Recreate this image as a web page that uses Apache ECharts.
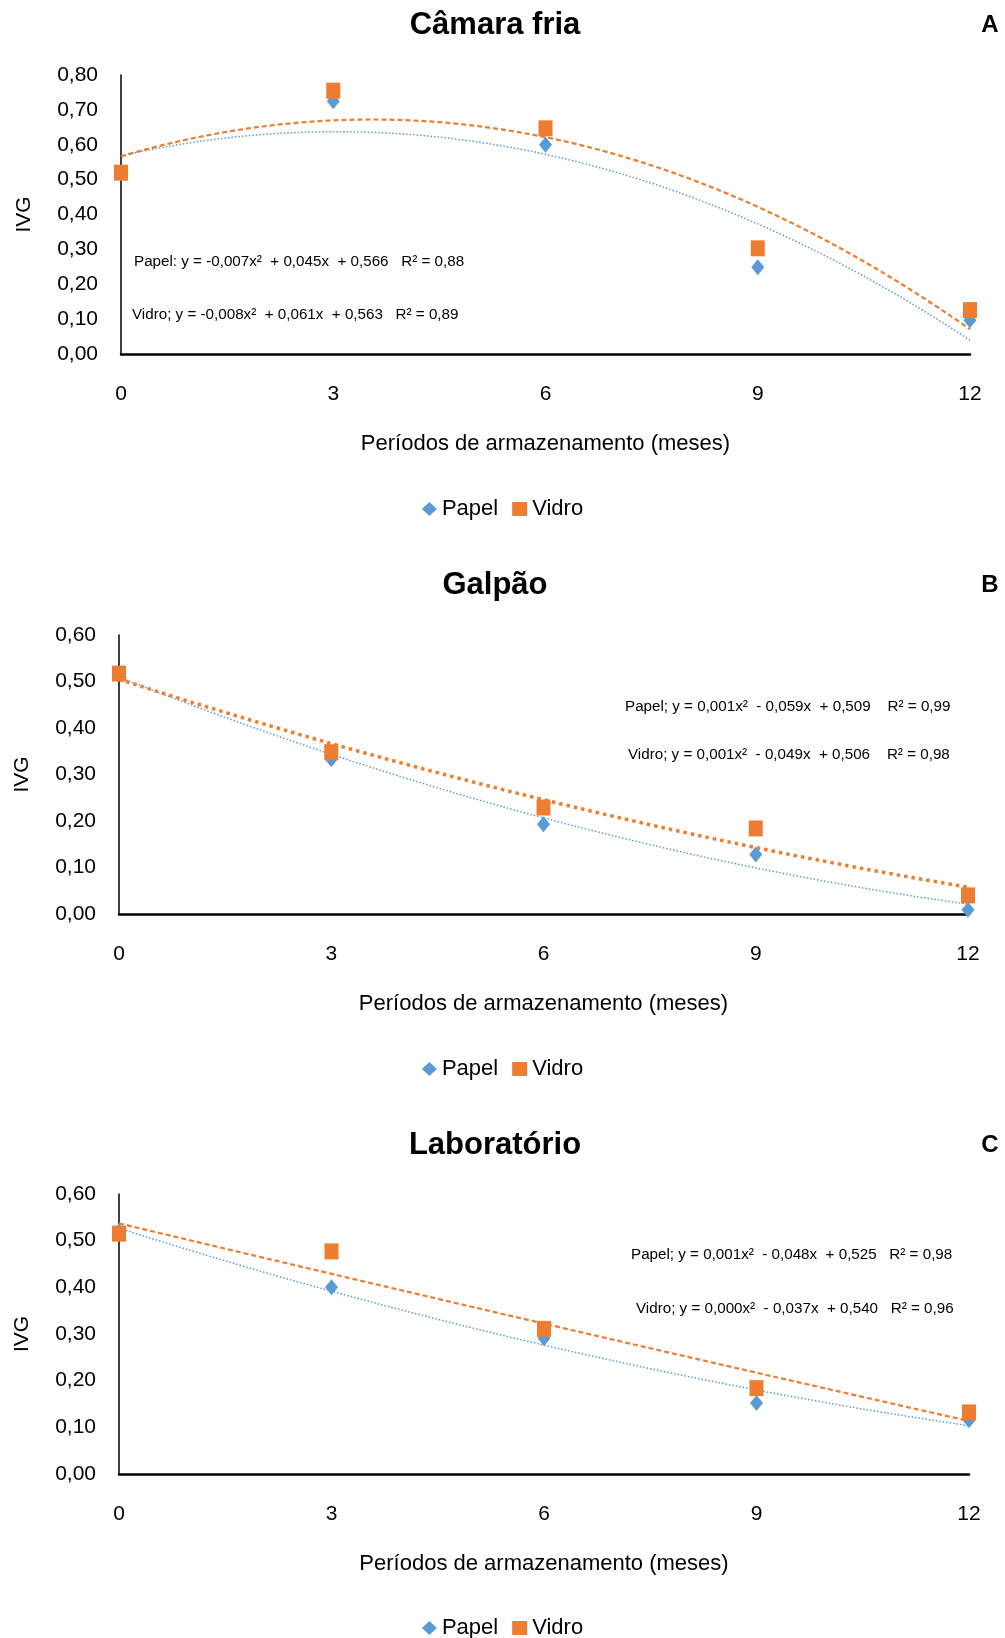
<!DOCTYPE html>
<html>
<head>
<meta charset="utf-8">
<script src="https://cdn.jsdelivr.net/npm/echarts@6/dist/echarts.min.js"></script>
<style>
html,body{margin:0;padding:0;background:#fff;}
#chart{width:1005px;height:1638px;}
</style>
</head>
<body>
<div id="chart"></div>
<script>
// ---------- data ----------
const months = [0, 3, 6, 9, 12];
const xTicks = [0, 3, 6, 9, 12];
const panelTitles = ['Câmara fria', 'Galpão', 'Laboratório'];
const panelLetters = ['A', 'B', 'C'];
const seriesNames = ['Papel', 'Vidro'];

const camaraPapel = [0.520, 0.725, 0.600, 0.249, 0.097];
const camaraVidro = [0.520, 0.755, 0.647, 0.303, 0.126];
const galpaoPapel = [0.517, 0.333, 0.193, 0.128, 0.009];
const galpaoVidro = [0.517, 0.348, 0.229, 0.184, 0.040];
const labPapel    = [0.520, 0.400, 0.291, 0.152, 0.115];
const labVidro    = [0.515, 0.477, 0.311, 0.184, 0.132];

const yMaxes = [0.8, 0.6, 0.6];

const eqCamara = ['Papel: y = -0,007x²  + 0,045x  + 0,566   R² = 0,88',
                  'Vidro; y = -0,008x²  + 0,061x  + 0,563   R² = 0,89'];
const eqGalpao = ['Papel; y = 0,001x²  - 0,059x  + 0,509    R² = 0,99',
                  'Vidro; y = 0,001x²  - 0,049x  + 0,506    R² = 0,98'];
const eqLab    = ['Papel; y = 0,001x²  - 0,048x  + 0,525   R² = 0,98',
                  'Vidro; y = 0,000x²  - 0,037x  + 0,540   R² = 0,96'];

// ---------- helpers ----------
// least-squares quadratic trend line (as the original's polynomial trendline)
function quadFit(xs, ys) {
  let S = [0,0,0,0,0], T = [0,0,0];
  for (let i = 0; i < xs.length; i++) {
    let p = 1;
    for (let k = 0; k < 5; k++) { S[k] += p; if (k < 3) T[k] += p * ys[i]; p *= xs[i]; }
  }
  const A = [[S[0],S[1],S[2],T[0]],[S[1],S[2],S[3],T[1]],[S[2],S[3],S[4],T[2]]];
  for (let c = 0; c < 3; c++) {
    let piv = c;
    for (let r = c+1; r < 3; r++) if (Math.abs(A[r][c]) > Math.abs(A[piv][c])) piv = r;
    [A[c], A[piv]] = [A[piv], A[c]];
    for (let r = 0; r < 3; r++) if (r !== c) {
      const f = A[r][c] / A[c][c];
      for (let k = c; k < 4; k++) A[r][k] -= f * A[c][k];
    }
  }
  return [A[0][3]/A[0][0], A[1][3]/A[1][1], A[2][3]/A[2][2]];
}
function trendPoints(xs, ys) {
  const c = quadFit(xs, ys);
  const pts = [];
  for (let i = 0; i <= 120; i++) {
    const x = xs[0] + (xs[xs.length-1] - xs[0]) * i / 120;
    pts.push([x, c[0] + c[1]*x + c[2]*x*x]);
  }
  return pts;
}
const pair = (xs, ys) => xs.map((x, i) => [x, ys[i]]);

const BLUE = '#5B9BD5', ORANGE = '#ED7D31';
const FONT = 'Liberation Sans, Arial, sans-serif';

const panels = [
  { papel: camaraPapel, vidro: camaraVidro, eq: eqCamara,
    grid: {left:121, top:75, width:849, height:279},
    titleY: 25, eqPos: [[134,262],[132,315]],
    vidroLine: {type:[5,3], width:2.2}, legendTop: 496 },
  { papel: galpaoPapel, vidro: galpaoVidro, eq: eqGalpao,
    grid: {left:119, top:635, width:849, height:279},
    titleY: 585, eqPos: [[625,707],[628,755]],
    vidroLine: {type:[3.5,4], width:3.5}, legendTop: 1056 },
  { papel: labPapel, vidro: labVidro, eq: eqLab,
    grid: {left:119, top:1194, width:850, height:280},
    titleY: 1145, eqPos: [[631,1255],[636,1309]],
    vidroLine: {type:[5,3], width:2.2}, legendTop: 1615 }
];

const grids = [], xAxes = [], yAxes = [], series = [], legends = [], graphics = [];
panels.forEach((p, i) => {
  grids.push(p.grid);
  xAxes.push({
    type: 'value', gridIndex: i, min: 0, max: 12, interval: 3,
    name: 'Períodos de armazenamento (meses)', nameLocation: 'middle', nameGap: 79,
    nameTextStyle: {fontFamily: FONT, fontSize: 22, color: '#000'},
    axisLine: {show: true, onZero: false, lineStyle: {color: '#000', width: 2.5}},
    axisTick: {show: false}, splitLine: {show: false},
    axisLabel: {fontFamily: FONT, fontSize: 21, color: '#000', margin: 30,
      customValues: xTicks, formatter: v => String(v)}
  });
  yAxes.push({
    type: 'value', gridIndex: i, min: 0, max: yMaxes[i], interval: 0.1,
    name: 'IVG', nameLocation: 'middle', nameGap: 86, nameRotate: 90,
    nameTextStyle: {fontFamily: FONT, fontSize: 21, color: '#000'},
    axisLine: {show: true, lineStyle: {color: '#000', width: 1.5}},
    axisTick: {show: false}, splitLine: {show: false},
    axisLabel: {fontFamily: FONT, fontSize: 21, color: '#000', margin: 23,
      formatter: v => v.toFixed(2).replace('.', ',')}
  });
  series.push({
    name: 'Papel trend ' + i, type: 'line', xAxisIndex: i, yAxisIndex: i,
    data: trendPoints(months, p.papel), showSymbol: false, silent: true, z: 3,
    lineStyle: {color: BLUE, width: 1.5, type: [1.5, 2]}
  });
  series.push({
    name: 'Vidro trend ' + i, type: 'line', xAxisIndex: i, yAxisIndex: i,
    data: trendPoints(months, p.vidro), showSymbol: false, silent: true, z: 3,
    lineStyle: {color: ORANGE, width: p.vidroLine.width, type: p.vidroLine.type}
  });
  series.push({
    name: 'Papel', type: 'scatter', xAxisIndex: i, yAxisIndex: i,
    data: pair(months, p.papel), symbol: 'diamond', symbolSize: [13, 16], z: 4,
    itemStyle: {color: BLUE, opacity: 1}
  });
  series.push({
    name: 'Vidro', type: 'scatter', xAxisIndex: i, yAxisIndex: i,
    data: pair(months, p.vidro), symbol: 'rect', symbolSize: [14, 16], z: 5,
    itemStyle: {color: ORANGE, opacity: 1}
  });
  legends.push({
    data: [{name: 'Papel', icon: 'diamond'}, {name: 'Vidro', icon: 'rect'}],
    top: p.legendTop - 3, left: 'center', itemWidth: 15, itemHeight: 14, itemGap: 14,
    textStyle: {fontFamily: FONT, fontSize: 22, color: '#000'}, selectedMode: false
  });
  graphics.push({
    type: 'text', style: {text: panelTitles[i], x: 495, y: p.titleY, textAlign: 'center',
      textVerticalAlign: 'middle', font: 'bold 31px ' + FONT, fill: '#000'}
  });
  graphics.push({
    type: 'text', style: {text: panelLetters[i], x: 990, y: p.titleY, textAlign: 'center',
      textVerticalAlign: 'middle', font: 'bold 24px ' + FONT, fill: '#000'}
  });
  p.eq.forEach((t, k) => {
    graphics.push({
      type: 'text', style: {text: t, x: p.eqPos[k][0], y: p.eqPos[k][1], textAlign: 'left',
        textVerticalAlign: 'middle', font: '15.2px ' + FONT, fill: '#000'}
    });
  });
});

const chart = echarts.init(document.getElementById('chart'), null, {renderer: 'canvas'});
chart.setOption({
  animation: false,
  backgroundColor: '#fff',
  grid: grids, xAxis: xAxes, yAxis: yAxes, series: series, legend: legends,
  graphic: graphics
});
</script>
</body>
</html>
